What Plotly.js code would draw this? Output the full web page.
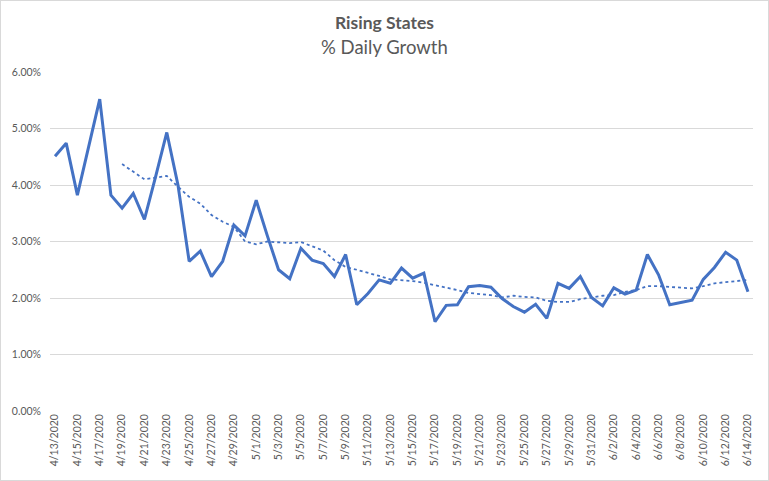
<!DOCTYPE html>
<html>
<head>
<meta charset="utf-8">
<script src="https://cdn.plot.ly/plotly-3.0.1.min.js"></script>
<style>
  html, body { margin: 0; padding: 0; background: #fff; }
  #chart { width: 767px; height: 479px; border: 1px solid #d9d9d9; }
</style>
</head>
<body>
<div id="chart"></div>
<script>
const dates = [
  "4/13/2020","4/14/2020","4/15/2020","4/16/2020","4/17/2020","4/18/2020","4/19/2020",
  "4/20/2020","4/21/2020","4/22/2020","4/23/2020","4/24/2020","4/25/2020","4/26/2020",
  "4/27/2020","4/28/2020","4/29/2020","4/30/2020","5/1/2020","5/2/2020","5/3/2020",
  "5/4/2020","5/5/2020","5/6/2020","5/7/2020","5/8/2020","5/9/2020","5/10/2020",
  "5/11/2020","5/12/2020","5/13/2020","5/14/2020","5/15/2020","5/16/2020","5/17/2020",
  "5/18/2020","5/19/2020","5/20/2020","5/21/2020","5/22/2020","5/23/2020","5/24/2020",
  "5/25/2020","5/26/2020","5/27/2020","5/28/2020","5/29/2020","5/30/2020","5/31/2020",
  "6/1/2020","6/2/2020","6/3/2020","6/4/2020","6/5/2020","6/6/2020","6/7/2020",
  "6/8/2020","6/9/2020","6/10/2020","6/11/2020","6/12/2020","6/13/2020","6/14/2020"
];

const dailyGrowth = [
  4.51, 4.74, 3.82, 4.67, 5.52, 3.82, 3.59,
  3.85, 3.39, 4.15, 4.93, 4.00, 2.65, 2.83,
  2.38, 2.65, 3.29, 3.10, 3.73, 3.10, 2.50,
  2.34, 2.88, 2.67, 2.61, 2.38, 2.77, 1.88,
  2.08, 2.32, 2.26, 2.53, 2.35, 2.44, 1.58,
  1.87, 1.88, 2.20, 2.22, 2.19, 1.99, 1.85,
  1.75, 1.89, 1.64, 2.26, 2.17, 2.38, 2.01,
  1.86, 2.18, 2.07, 2.14, 2.77, 2.41, 1.88,
  1.92, 1.96, 2.33, 2.54, 2.81, 2.67, 2.11
];

const movingAvg = [
  null, null, null, null, null, null, 4.37,
  4.24, 4.10, 4.13, 4.16, 3.97, 3.79, 3.67,
  3.47, 3.35, 3.26, 3.00, 2.95, 3.00, 2.98,
  2.97, 2.99, 2.91, 2.84, 2.67, 2.55, 2.50,
  2.45, 2.39, 2.33, 2.32, 2.30, 2.27, 2.23,
  2.19, 2.14, 2.09, 2.07, 2.05, 2.01, 2.04,
  2.02, 2.01, 1.95, 1.93, 1.93, 1.98, 2.01,
  2.04, 2.05, 2.11, 2.14, 2.21, 2.21, 2.20,
  2.19, 2.17, 2.21, 2.26, 2.28, 2.30, 2.32
];

const tickLabels = dates.filter((d, i) => i % 2 === 0);

const toFrac = a => a.map(v => v === null ? null : v / 100);

const traces = [
  {
    x: dates, y: toFrac(dailyGrowth), type: 'scatter', mode: 'lines',
    line: { color: '#4472C4', width: 3 }, showlegend: false
  },
  {
    x: dates, y: toFrac(movingAvg), type: 'scatter', mode: 'lines',
    line: { color: '#4472C4', width: 1.8, dash: 'dot' }, showlegend: false
  }
];

const FONT = 'Lato, "Open Sans", sans-serif';
const W = 767, H = 479, ML = 49, MR = 15, MT = 71, MB = 69;

const layout = {
  width: W, height: H,
  margin: { l: ML, r: MR, t: MT, b: MB },
  paper_bgcolor: '#ffffff', plot_bgcolor: '#ffffff',
  font: { family: FONT, color: '#595959' },
  title: {
    text: '<b>Rising States</b>',
    font: { size: 17.5, color: '#595959', family: FONT },
    x: 0.5, xanchor: 'center',
    yref: 'container', y: 1 - 22 / H, yanchor: 'middle'
  },
  annotations: [{
    text: '% Daily Growth',
    xref: 'paper', yref: 'paper',
    x: (W / 2 - ML) / (W - ML - MR), xanchor: 'center',
    y: (H - MB - 46) / (H - MT - MB), yanchor: 'middle',
    showarrow: false,
    font: { size: 18.5, color: '#595959', family: FONT }
  }],
  xaxis: {
    type: 'category',
    categoryorder: 'array', categoryarray: dates,
    range: [-0.45, dates.length - 0.55],
    tickvals: tickLabels, ticktext: tickLabels,
    tickangle: -90,
    tickfont: { size: 10.5, color: '#595959' },
    showgrid: false, zeroline: false, showline: false, ticks: ''
  },
  yaxis: {
    range: [0, 0.06],
    dtick: 0.01, tickformat: '.2%',
    tickfont: { size: 10.5, color: '#595959' },
    gridcolor: '#d9d9d9', gridwidth: 1,
    zeroline: false, showline: false, ticks: '',
    ticklabelstandoff: 8
  }
};

Plotly.newPlot('chart', traces, layout, { displayModeBar: false, staticPlot: true });
</script>
</body>
</html>
